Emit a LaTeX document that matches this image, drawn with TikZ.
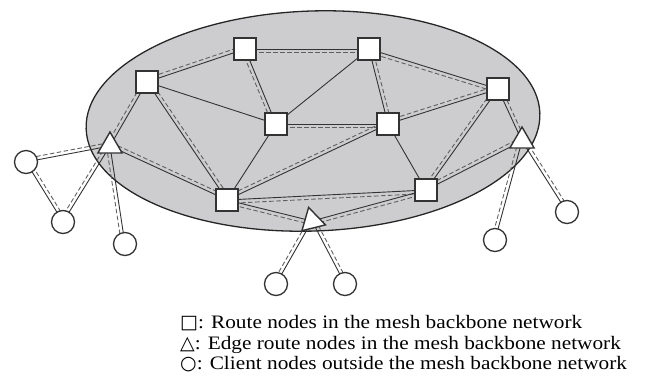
\documentclass[tikz,border=0pt]{standalone}
\usepackage{fontspec}
\setmainfont{Liberation Serif}
\newfontfamily\legfont[FakeStretch=1.12]{Liberation Serif}
\newfontfamily\symfont{DejaVu Sans}
\usetikzlibrary{calc,shapes.geometric}
\pgfdeclarelayer{bg}
\pgfdeclarelayer{edges}
\pgfsetlayers{bg,edges,main}
\definecolor{ellfill}{HTML}{CDCDCF}
\definecolor{edgecol}{HTML}{333333}
\definecolor{dashcol}{HTML}{606060}
\tikzset{
  sqnode/.style={draw=edgecol,line width=1.4pt,fill=white,minimum size=22pt,inner sep=0pt},
  trinode/.style={draw=edgecol,line width=1.4pt,fill=white,regular polygon,regular polygon sides=3,minimum size=28pt,inner sep=0pt},
  clnode/.style={draw=edgecol,line width=1.3pt,fill=white,circle,minimum size=23pt,inner sep=0pt},
  solidl/.style={draw=edgecol,line width=0.9pt},
  dashl/.style={draw=dashcol,line width=0.9pt,dash pattern=on 4.5pt off 2.5pt},
  legtext/.style={anchor=base west,inner sep=0pt,font=\fontsize{19}{21}\legfont}
}
\newcommand\dlink[3][-90]{%
  \draw[solidl] (#2.center) -- (#3.center);
  \draw[dashl] ($(#2.center)!3.5pt!#1:(#3.center)$) -- ($(#3.center)!-3.5pt!#1:(#2.center)$);}
\newcommand\slink[2]{\draw[solidl] (#1.center) -- (#2.center);}
\begin{document}
\begin{tikzpicture}[x=1pt,y=-1pt]
\useasboundingbox (0,0) rectangle (649,376);
\begin{pgfonlayer}{bg}
\coordinate (ec) at (313,121);
\draw[fill=ellfill,draw=black!85,line width=1.3pt,rotate around={2:(ec)}] (ec) ellipse [x radius=227, y radius=110];
\end{pgfonlayer}
% route nodes
\node[sqnode] (A) at (147,82) {};
\node[sqnode] (B) at (245,49) {};
\node[sqnode] (C) at (369,49) {};
\node[sqnode] (D) at (498,89) {};
\node[sqnode] (E) at (276,124) {};
\node[sqnode] (F) at (388,124) {};
\node[sqnode] (G) at (227,200) {};
\node[sqnode] (H) at (426,190) {};
% edge route nodes
\node[trinode] (T1) at (110,146) {};
\node[trinode,rotate=14] (T2) at (312,221) {};
\node[trinode] (T3) at (522,141) {};
% client nodes
\node[clnode] (c1) at (26,162) {};
\node[clnode] (c2) at (63,222) {};
\node[clnode] (c3) at (125,244) {};
\node[clnode] (c4) at (276,284) {};
\node[clnode] (c5) at (345,284) {};
\node[clnode] (c6) at (495,240) {};
\node[clnode] (c7) at (567,212) {};
\begin{pgfonlayer}{edges}
\dlink[90]{A}{B}
\dlink{B}{C}
\dlink{B}{E}
\slink{A}{E}
\dlink[90]{A}{G}
\dlink{A}{T1}
\slink{C}{E}
\dlink[90]{C}{F}
\dlink{C}{D}
\dlink{E}{F}
\slink{E}{G}
\dlink[90]{T1}{G}
\dlink[90]{G}{F}
\dlink[90]{F}{D}
\slink{F}{H}
\dlink{D}{H}
\dlink[90]{D}{T3}
\dlink[90]{H}{T3}
\dlink{G}{H}
\dlink{G}{T2}
\dlink{T2}{H}
\dlink{T1}{c1}
\dlink[90]{c1}{c2}
\dlink[90]{c2}{T1}
\dlink{T1}{c3}
\dlink{T2}{c4}
\dlink[90]{T2}{c5}
\dlink{T3}{c6}
\dlink[90]{T3}{c7}
\end{pgfonlayer}
% legend
\node[legtext] (L1) at (180,328) {{\symfont □}: Route nodes in the mesh backbone network};
\node[legtext] (L2) at (180,349) {{\symfont △}: Edge route nodes in the mesh backbone network};
\node[legtext] (L3) at (180,369) {{\symfont ○}: Client nodes outside the mesh backbone network};
\end{tikzpicture}
\end{document}
